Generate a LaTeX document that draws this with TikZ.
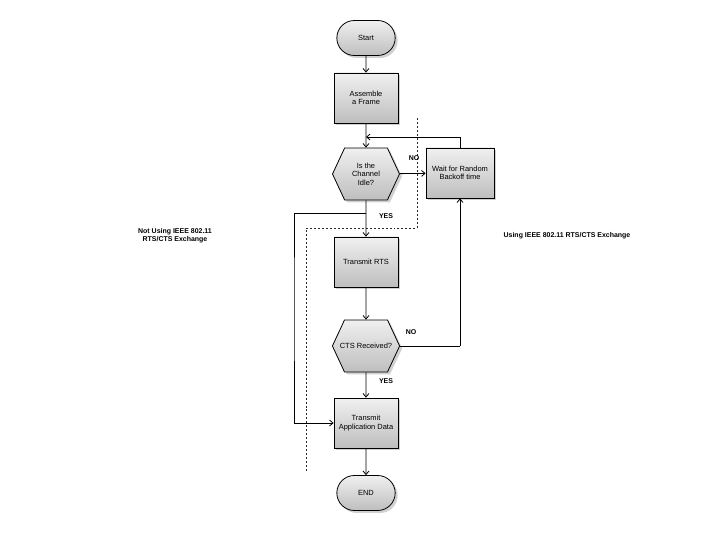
\documentclass[tikz,border=0pt]{standalone}
\usepackage{fontspec}
\setmainfont{Liberation Sans}
\usepackage{tikz}
\usetikzlibrary{shapes.misc,shapes.symbols,shadows,arrows.meta}
\definecolor{box-top}{RGB}{240, 240, 240}
\definecolor{box-bottom}{RGB}{190, 190, 190}
\definecolor{sep-color}{RGB}{40, 40, 40}

\begin{document}
\begin{tikzpicture}[x=1bp, y=-1bp,
  font=\fontsize{7.5}{8.5}\selectfont,
  >={Straight Barb[length=3.5pt, width=6pt]},
  shade/.style={top color=box-top, bottom color=box-bottom, draw=black, thick,
    drop shadow={shadow xshift=2.5pt, shadow yshift=-2.5pt, fill=gray!60, opacity=0.6}},
  terminal/.style={shade, rounded rectangle, minimum width=65bp, minimum height=35bp},
  process/.style={shade, rectangle, minimum width=64bp, minimum height=50bp, align=center},
  decision/.style={shade, signal, signal to=east and west, signal pointer angle=130,
    minimum width=67bp, minimum height=52bp, inner xsep=0pt, align=center},
  flow/.style={->, thick},
  tag/.style={font=\fontsize{7}{8}\selectfont\bfseries, align=center}]
\useasboundingbox (0,0) rectangle (720,540);

\node[terminal] (start) at (366,38) {Start};
\node[process] (assemble) at (366,98) {Assemble\\a Frame};
\node[decision] (idle) at (366,174) {Is the\\Channel\\Idle?};
\node[process, minimum width=68bp] (backoff) at (460,173) {Wait for Random\\Backoff time};
\node[process] (rts) at (366,262) {Transmit RTS};
\node[decision] (cts) at (366,346) {\makebox[43bp][c]{CTS Received?}};
\node[process] (appdata) at (366,423) {Transmit\\Application Data};
\node[terminal] (end) at (366,493) {END};

\coordinate (loopin) at (366,137);
\coordinate (split) at (366,213);
\coordinate (ctsturn) at (backoff.south |- cts.east);

% dashed boundary between the two modes
\draw[sep-color, thick, dash pattern=on 2pt off 2pt] (417,118) -- (417,228) -- (306,228) -- (306,471);

\draw[flow] (start) -- (assemble);
\draw[flow] (assemble) -- (idle);
\draw[flow] (backoff.north) |- (loopin);
\draw[flow] (idle) -- (backoff);
\draw[flow] (idle) -- (rts);
\draw[flow] (rts) -- (cts);
\draw[thick] (cts.east) -- (ctsturn);
\draw[flow] (ctsturn) -- (backoff.south);
\draw[flow] (cts) -- (appdata);
\draw[flow] (split) -| (294,300) |- (appdata.west);
\draw[flow] (appdata) -- (end);

\node[tag] (yes1) at (386,216) {YES};
\node[tag] (no1) at (414,158) {NO};
\node[tag] (no2) at (411,332) {NO};
\node[tag] (yes2) at (386,381) {YES};

\node[tag] (legacy) at (175,236) {Not Using IEEE 802.11\\RTS/CTS Exchange};
\node[tag] (rtscts) at (567,236) {Using IEEE 802.11 RTS/CTS Exchange};
\end{tikzpicture}
\end{document}
